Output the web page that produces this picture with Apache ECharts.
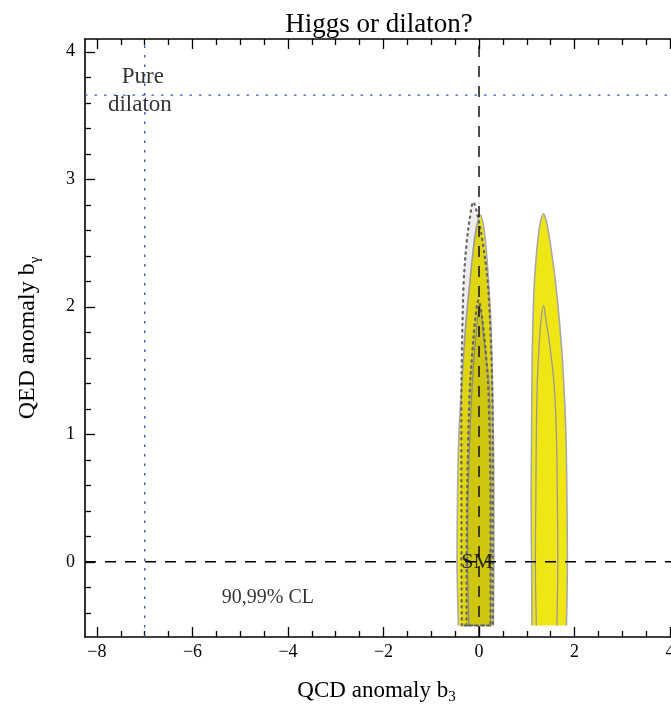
<!DOCTYPE html>
<html>
<head>
<meta charset="utf-8">
<script src="https://cdn.jsdelivr.net/npm/echarts@6/dist/echarts.min.js"></script>
<style>
html, body { margin: 0; padding: 0; background: #fff; }
#chart { width: 671px; height: 708px; }
</style>
</head>
<body>
<div id="chart"></div>
<script>
// axis ranges and ticks
const xMin = -8.25, xMax = 4.25;
const yMin = -0.59, yMax = 4.1;
const xMajorTicks = [-8, -6, -4, -2, 0, 2, 4];
const xMinorTicks = [-7.5, -7, -6.5, -5.5, -5, -4.5, -3.5, -3, -2.5, -1.5, -1, -0.5, 0.5, 1, 1.5, 2.5, 3, 3.5];
const yMajorTicks = [0, 1, 2, 3, 4];
const yMinorTicks = [-0.4, -0.2, 0.2, 0.4, 0.6, 0.8, 1.2, 1.4, 1.6, 1.8, 2.2, 2.4, 2.6, 2.8, 3.2, 3.4, 3.6, 3.8];

// reference points
const smPoint = [0, 0];
const dilatonPoint = [-7, 3.66];

// contour outlines, [b3, bgamma]
const rightOuter = [[1.11, -0.5], [1.10, 0], [1.09, 0.5], [1.10, 1.0], [1.11, 1.5], [1.13, 1.9], [1.16, 2.2], [1.20, 2.4], [1.24, 2.55], [1.29, 2.67], [1.35, 2.73], [1.41, 2.67], [1.47, 2.55], [1.53, 2.4], [1.60, 2.2], [1.68, 1.9], [1.76, 1.5], [1.82, 1.0], [1.84, 0.5], [1.85, 0], [1.83, -0.5]];
const rightInner = [[1.20, -0.5], [1.18, 0], [1.19, 0.5], [1.20, 1.0], [1.22, 1.4], [1.26, 1.7], [1.30, 1.9], [1.35, 2.01], [1.40, 1.9], [1.48, 1.7], [1.57, 1.4], [1.62, 1.0], [1.64, 0.5], [1.65, 0], [1.63, -0.5]];
const leftOuter = [[-0.43, -0.5], [-0.46, 0], [-0.45, 0.5], [-0.42, 1.0], [-0.36, 1.4], [-0.28, 1.85], [-0.19, 2.2], [-0.12, 2.45], [-0.05, 2.63], [0.03, 2.72], [0.10, 2.62], [0.15, 2.45], [0.20, 2.2], [0.25, 1.85], [0.28, 1.4], [0.30, 1.0], [0.31, 0.5], [0.31, 0], [0.30, -0.5]];
const leftInner = [[-0.21, -0.5], [-0.24, 0], [-0.23, 0.5], [-0.19, 1.0], [-0.14, 1.4], [-0.07, 1.75], [0.02, 2.0], [0.10, 1.75], [0.21, 1.4], [0.24, 1.0], [0.25, 0.5], [0.25, 0], [0.24, -0.5]];
const dotOuter = [[-0.36, -0.5], [-0.37, 0.5], [-0.37, 1.3], [-0.35, 1.8], [-0.32, 2.2], [-0.26, 2.5], [-0.19, 2.7], [-0.12, 2.82], [-0.02, 2.7], [0.08, 2.5], [0.18, 2.2], [0.24, 1.8], [0.28, 1.3], [0.29, 0.5], [0.29, -0.5]];
const dotInner = [[-0.26, -0.5], [-0.25, 0.5], [-0.20, 1.3], [-0.15, 1.6], [-0.08, 1.9], [-0.01, 2.05], [0.07, 1.9], [0.15, 1.6], [0.20, 1.3], [0.24, 0.5], [0.24, -0.5]];

// text annotations
const noteText = ['Pure', 'dilaton', '90,99% CL', 'SM'];
const noteX = [-7.04, -7.1, -4.42, -0.04];
const noteY = [3.8, 3.585, -0.286, 0.0];

const FONT = 'Liberation Serif';
const noteFontSize = [23, 23, 20, 22];
const fmt = (v) => (v < 0 ? '\u2212' + (-v) : String(v));

function shape(points, kind, style) {
  return {
    type: 'custom',
    coordinateSystem: 'cartesian2d',
    clip: true,
    silent: true,
    data: [[points[0][0], points[0][1]]],
    renderItem: (params, api) => {
      const pts = points.map((p) => api.coord(p));
      const xs = pts.map((p) => p[0]);
      const ys = pts.map((p) => p[1]);
      const box = [[Math.min(...xs), Math.min(...ys)], [Math.max(...xs), Math.max(...ys)]];
      return {
        type: kind,
        shape: { points: pts, smooth: 0.35, smoothConstraint: box },
        style: style,
      };
    },
  };
}

function refLine(data, color, dash, width) {
  return {
    type: 'line',
    data: data,
    showSymbol: false,
    silent: true,
    lineStyle: { color: color, type: dash, width: width },
  };
}

const yellow = '#f0e614';
const dotStroke = { fill: 'rgba(0,0,0,0.07)', stroke: '#666', lineWidth: 2.2, lineDash: [1.5, 4.5], lineCap: 'round' };

const chart = echarts.init(document.getElementById('chart'));

function axisBase(extra) {
  return Object.assign({
    type: 'value',
    splitLine: { show: false },
    axisLabel: { show: false },
    axisLine: { show: false, onZero: false },
  }, extra);
}

const tickLine = { color: '#000', width: 1.3 };
const nameRich = (size) => ({
  a: { fontFamily: FONT, fontSize: size, color: '#000', lineHeight: size + 6 },
  s: { fontFamily: FONT, fontSize: Math.round(size * 0.64), color: '#000', lineHeight: Math.round(size * 0.64), verticalAlign: 'bottom' },
});

chart.setOption({
  animation: false,
  title: {
    text: 'Higgs or dilaton?',
    left: 374,
    textAlign: 'center',
    top: 6,
    textStyle: { fontFamily: FONT, fontSize: 27, fontWeight: 'normal', color: '#000' },
  },
  grid: { left: 85, top: 39, width: 597, height: 598, containLabel: false, outerBoundsMode: 'none' },
  xAxis: [
    axisBase({
      min: xMin, max: xMax, position: 'bottom',
      axisLine: { show: true, onZero: false, lineStyle: { color: '#000', width: 1.6 } },
      axisTick: { show: true, inside: true, length: 10, customValues: xMajorTicks, lineStyle: tickLine },
      axisLabel: { show: true, customValues: xMajorTicks, formatter: fmt, color: '#000', fontFamily: FONT, fontSize: 18, margin: 6 },
      name: '{a|QCD anomaly b}{s|3}',
      nameLocation: 'middle',
      nameGap: 39,
      nameTextStyle: { rich: nameRich(23), padding: [0, 14, 0, 0] },
    }),
    axisBase({ min: xMin, max: xMax, position: 'bottom',
      axisTick: { show: true, inside: true, length: 6, customValues: xMinorTicks, lineStyle: tickLine } }),
    axisBase({ min: xMin, max: xMax, position: 'top',
      axisLine: { show: true, onZero: false, lineStyle: { color: '#000', width: 1.6 } },
      axisTick: { show: true, inside: true, length: 10, customValues: xMajorTicks, lineStyle: tickLine } }),
    axisBase({ min: xMin, max: xMax, position: 'top',
      axisTick: { show: true, inside: true, length: 6, customValues: xMinorTicks, lineStyle: tickLine } }),
  ],
  yAxis: [
    axisBase({
      min: yMin, max: yMax, position: 'left',
      axisLine: { show: true, onZero: false, lineStyle: { color: '#000', width: 1.6 } },
      axisTick: { show: true, inside: true, length: 10, customValues: yMajorTicks, lineStyle: tickLine },
      axisLabel: { show: true, customValues: yMajorTicks, formatter: fmt, color: '#000', fontFamily: FONT, fontSize: 18, margin: 10 },
      name: '{a|QED anomaly b}{s|\u03b3}',
      nameLocation: 'middle',
      nameGap: 42,
      nameRotate: 90,
      nameTextStyle: { rich: nameRich(24) },
    }),
    axisBase({ min: yMin, max: yMax, position: 'left',
      axisTick: { show: true, inside: true, length: 6, customValues: yMinorTicks, lineStyle: tickLine } }),
  ],
  series: [
    shape(leftOuter, 'polygon', { fill: yellow }),
    shape(rightOuter, 'polygon', { fill: yellow }),
    shape(leftOuter, 'polyline', { fill: null, stroke: '#a8a8a8', lineWidth: 1.6 }),
    shape(rightOuter, 'polyline', { fill: null, stroke: '#a8a8a8', lineWidth: 1.6 }),
    shape(leftInner, 'polyline', { fill: null, stroke: '#a0a0a0', lineWidth: 1.2 }),
    shape(rightInner, 'polyline', { fill: null, stroke: '#999', lineWidth: 1.3 }),
    shape(dotOuter, 'polygon', dotStroke),
    shape(dotInner, 'polygon', dotStroke),
    refLine([[smPoint[0], yMin], [smPoint[0], yMax]], '#000', [11, 9], 1.4),
    refLine([[xMin, smPoint[1]], [xMax, smPoint[1]]], '#000', [11, 9], 1.4),
    refLine([[dilatonPoint[0], yMin], [dilatonPoint[0], yMax]], '#3a56b8', [2.5, 7], 1.4),
    refLine([[xMin, dilatonPoint[1]], [xMax, dilatonPoint[1]]], '#3a56b8', [2.5, 7], 1.4),
    {
      type: 'scatter',
      silent: true,
      symbolSize: 0,
      data: noteText.map((t, i) => ({
        value: [noteX[i], noteY[i]],
        label: { fontSize: noteFontSize[i] },
      })),
      label: {
        show: true,
        position: 'inside',
        formatter: (p) => noteText[p.dataIndex],
        color: '#000',
        fontFamily: FONT,
      },
    },
  ],
});
</script>
</body>
</html>
